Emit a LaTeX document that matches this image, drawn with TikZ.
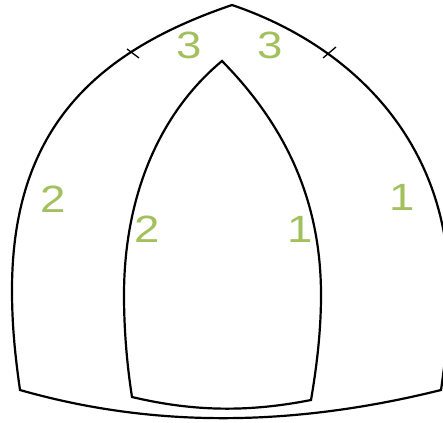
\documentclass[tikz,border=0pt]{standalone}
\usepackage{fontspec}
\setmainfont{Liberation Sans}
\newfontfamily\numfont[FakeStretch=1.2]{Liberation Sans}
\usepackage{xcolor}
\definecolor{numgreen}{HTML}{A2C05E}
\begin{document}
\begin{tikzpicture}[x=1pt,y=-1pt,line width=2.2pt,line join=miter]
  \tikzstyle{num}=[text=numgreen,font=\numfont\fontsize{38}{38}\selectfont,inner sep=0pt]
  \useasboundingbox (0,0) rectangle (443,422);
  \clip (0,0) rectangle (443,422);
  % outer shape
  \coordinate (top) at (232,5);
  \coordinate (bl) at (20,390);
  \coordinate (br) at (441,390);
  \coordinate (ol) at (12,290);
  \coordinate (or) at (449,290);
  \draw (top) .. controls (100,50) and (12,125) .. (ol)
    .. controls (12,325) and (15,355) .. (bl)
    .. controls (160,430) and (300,425) .. (br)
    .. controls (446,355) and (449,325) .. (or)
    .. controls (449,140) and (350,45) .. (top) -- cycle;
  % inner shape
  \coordinate (itop) at (222,61);
  \coordinate (ibl) at (132,397);
  \coordinate (ibr) at (311,400);
  \coordinate (il) at (124,295);
  \coordinate (ir) at (321,295);
  \draw (itop) .. controls (157,115) and (124,200) .. (il)
    .. controls (124,330) and (127,365) .. (ibl)
    .. controls (195,412) and (250,412) .. (ibr)
    .. controls (317,365) and (321,330) .. (ir)
    .. controls (321,200) and (285,125) .. (itop) -- cycle;
  % ticks
  \coordinate (t1a) at (127,49);
  \coordinate (t1b) at (139,58);
  \coordinate (t2a) at (323,58);
  \coordinate (t2b) at (336,47);
  \draw[line width=1.3pt] (t1a) -- (t1b);
  \draw[line width=1.3pt] (t2a) -- (t2b);
  % numbers
  \node[num] (n3l) at (189,45) {3};
  \node[num] (n3r) at (270,45) {3};
  \node[num] (n2o) at (53,199) {2};
  \node[num] (n2i) at (147,229) {2};
  \node[num] (n1i) at (300,229) {1};
  \node[num] (n1o) at (402,197) {1};
\end{tikzpicture}
\end{document}
